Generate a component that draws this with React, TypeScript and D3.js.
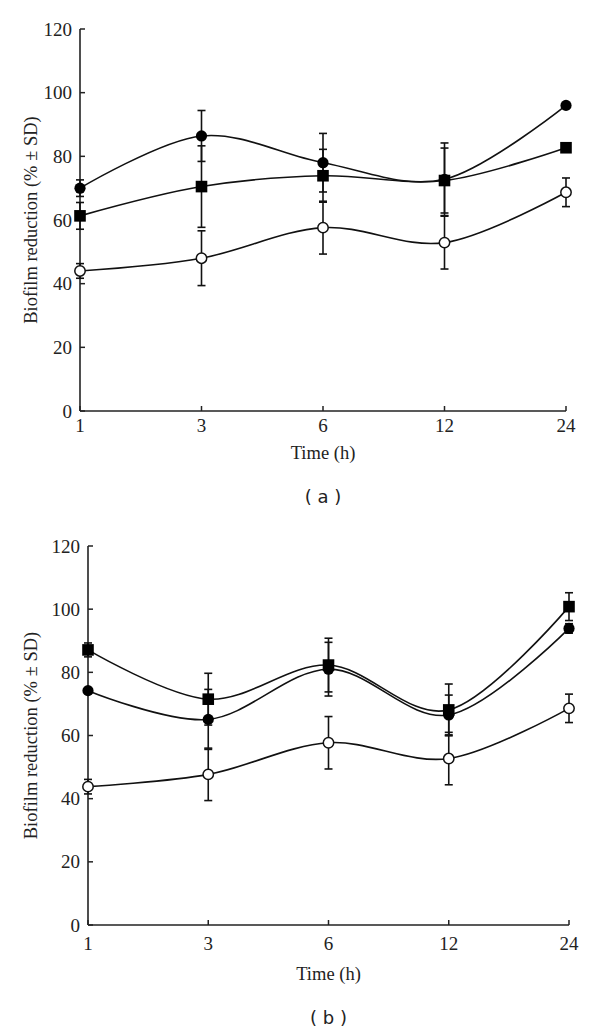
import React from "react";
import * as d3 from "d3";

// ---- Data ----
const timeLabels = ["1", "3", "6", "12", "24"];
const yTicks = [0, 20, 40, 60, 80, 100, 120];

// Panel (a)
const aFilledCircle = [70.0, 86.4, 78.0, 72.8, 96.0];
const aFilledCircleSD = [2.6, 8.0, 9.2, 11.4, 0];
const aSquare = [61.3, 70.5, 73.9, 72.4, 82.7];
const aSquareSD = [4.2, 12.8, 8.3, 10.2, 0];
const aOpenCircle = [44.0, 48.0, 57.6, 52.9, 68.7];
const aOpenCircleSD = [2.3, 8.6, 8.3, 8.3, 4.5];

// Panel (b)
const bSquare = [87.1, 71.5, 82.3, 68.1, 100.8];
const bSquareSD = [2.2, 8.2, 8.5, 8.2, 4.4];
const bFilledCircle = [74.2, 65.1, 81.0, 66.5, 93.9];
const bFilledCircleSD = [0, 9.5, 8.5, 6.3, 1.5];
const bOpenCircle = [43.8, 47.7, 57.7, 52.7, 68.6];
const bOpenCircleSD = [2.3, 8.3, 8.3, 8.3, 4.5];

type Series = { values: number[]; sd: number[]; marker: "circle" | "square" | "open" };

const SERIF = "'Liberation Serif', 'Times New Roman', serif";
const SANS = "'DejaVu Sans', Verdana, sans-serif";

function Panel(props: {
  x0: number; x1: number; yTop: number; yBottom: number;
  series: Series[]; label: string; labelY: number; tickLabelY: number; titleY: number;
}) {
  const { x0, x1, yTop, yBottom, series, label, labelY, tickLabelY, titleY } = props;
  const x = d3.scalePoint<string>().domain(timeLabels).range([x0, x1]).padding(0);
  const y = d3.scaleLinear().domain([0, 120]).range([yBottom, yTop]);
  const line = d3
    .line<number>()
    .x((_, i) => x(timeLabels[i]) as number)
    .y((d) => y(d))
    .curve(d3.curveCardinal.tension(0));
  const tickLen = 5;
  const capW = 4;
  const axisColor = "#222";
  const cx = (x0 + x1) / 2;
  return (
    <g>
      {/* axes */}
      <line x1={x0} x2={x0} y1={y(120)} y2={y(0)} stroke={axisColor} strokeWidth={1.6} />
      <line x1={x0} x2={x1} y1={y(0)} y2={y(0)} stroke={axisColor} strokeWidth={1.6} />
      {yTicks.map((t) => (
        <g key={"y" + t}>
          <line x1={x0} x2={x0 + tickLen} y1={y(t)} y2={y(t)} stroke={axisColor} strokeWidth={1.5} />
          <text x={x0 - 8} y={y(t)} dy="0.35em" textAnchor="end" fontFamily={SERIF} fontSize={19} fill="#222">
            {t}
          </text>
        </g>
      ))}
      {timeLabels.map((t) => (
        <g key={"x" + t}>
          <line x1={x(t)} x2={x(t)} y1={y(0)} y2={y(0) - tickLen} stroke={axisColor} strokeWidth={1.5} />
          <text x={x(t)} y={tickLabelY} textAnchor="middle" fontFamily={SERIF} fontSize={19} fill="#222">
            {t}
          </text>
        </g>
      ))}
      <text x={cx} y={titleY} textAnchor="middle" fontFamily={SERIF} fontSize={18.5} fill="#222">
        Time (h)
      </text>
      <text
        transform={`translate(31,${(yTop + yBottom) / 2}) rotate(-90)`}
        textAnchor="middle"
        dominantBaseline="central"
        fontFamily={SERIF}
        fontSize={18.5}
        fill="#222"
      >
        Biofilm reduction (% ± SD)
      </text>
      <text x={cx} y={labelY} textAnchor="middle" fontFamily={SANS} fontSize={18} fill="#222" xmlSpace="preserve">
        {label}
      </text>
      {/* error bars */}
      {series.map((s, si) =>
        s.values.map((v, i) =>
          s.sd[i] > 0 ? (
            <g key={`e${si}-${i}`} stroke="#111" strokeWidth={1.6}>
              <line x1={x(timeLabels[i])} x2={x(timeLabels[i])} y1={y(v + s.sd[i])} y2={y(v - s.sd[i])} />
              <line x1={(x(timeLabels[i]) as number) - capW} x2={(x(timeLabels[i]) as number) + capW} y1={y(v + s.sd[i])} y2={y(v + s.sd[i])} />
              <line x1={(x(timeLabels[i]) as number) - capW} x2={(x(timeLabels[i]) as number) + capW} y1={y(v - s.sd[i])} y2={y(v - s.sd[i])} />
            </g>
          ) : null
        )
      )}
      {/* lines */}
      {series.map((s, si) => (
        <path key={"l" + si} d={line(s.values) || ""} fill="none" stroke="#111" strokeWidth={1.6} />
      ))}
      {/* markers */}
      {series.map((s, si) =>
        s.values.map((v, i) => {
          const px = x(timeLabels[i]) as number;
          const py = y(v);
          if (s.marker === "square")
            return <rect key={`m${si}-${i}`} x={px - 5.8} y={py - 5.8} width={11.6} height={11.6} fill="#000" />;
          if (s.marker === "circle")
            return <circle key={`m${si}-${i}`} cx={px} cy={py} r={5.6} fill="#000" />;
          return <circle key={`m${si}-${i}`} cx={px} cy={py} r={5.2} fill="#fff" stroke="#111" strokeWidth={1.5} />;
        })
      )}
    </g>
  );
}

export default function App() {
  const seriesA: Series[] = [
    { values: aOpenCircle, sd: aOpenCircleSD, marker: "open" },
    { values: aSquare, sd: aSquareSD, marker: "square" },
    { values: aFilledCircle, sd: aFilledCircleSD, marker: "circle" },
  ];
  const seriesB: Series[] = [
    { values: bOpenCircle, sd: bOpenCircleSD, marker: "open" },
    { values: bFilledCircle, sd: bFilledCircleSD, marker: "circle" },
    { values: bSquare, sd: bSquareSD, marker: "square" },
  ];
  return (
    <svg width={600} height={1036} style={{ position: "absolute", left: 0, top: 0, background: "#fff" }}>
      <rect width={600} height={1036} fill="#fff" />
      <Panel x0={80} x1={566} yTop={29} yBottom={411} series={seriesA} label="( a )" labelY={503} tickLabelY={432} titleY={459} />
      <Panel x0={88} x1={569} yTop={546} yBottom={925} series={seriesB} label="( b )" labelY={1024} tickLabelY={950} titleY={980} />
    </svg>
  );
}
